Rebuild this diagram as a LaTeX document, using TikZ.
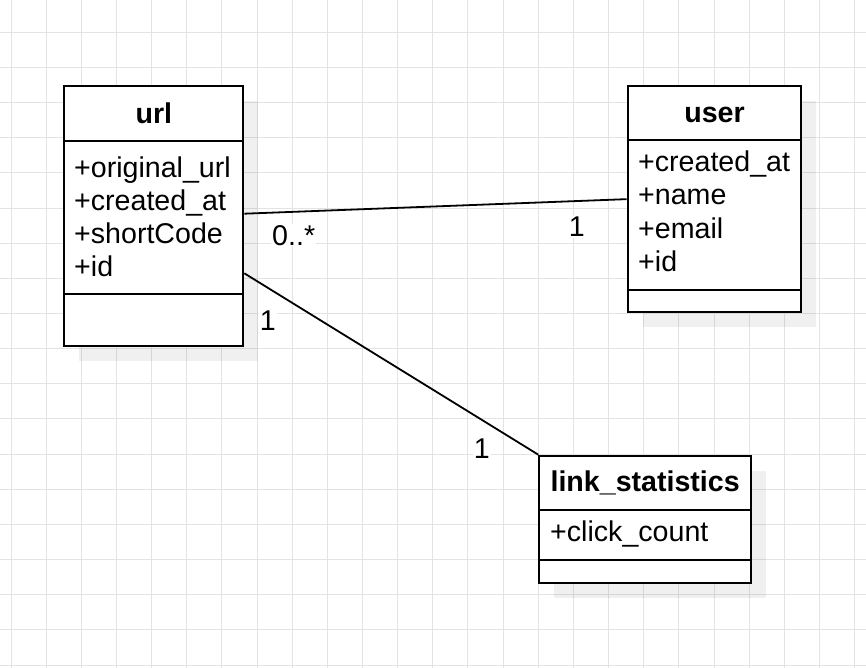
\documentclass[tikz,border=0pt]{standalone}
\usepackage{fontspec}
\setmainfont{Liberation Sans}
\usetikzlibrary{positioning,shadows}

\begin{document}
\begin{tikzpicture}[x=1pt,y=-1pt,
     node distance=33.2pt,on grid,
     clase/.style={rectangle,draw,line width=2pt,fill=white,inner sep=0pt,anchor=north west,
        drop shadow={shadow xshift=15pt,shadow yshift=-15pt,fill=black,opacity=0.06}},
     titulo/.style={font=\fontsize{28.6}{33}\selectfont\bfseries,inner sep=0pt,anchor=base},
     atributo/.style={font=\fontsize{28.6}{33}\selectfont,inner sep=0pt,anchor=base west},
     etiqueta/.style={font=\fontsize{28.6}{33}\selectfont,inner sep=1pt,fill=white,anchor=base west},
     separa/.style={line width=2pt},
     rejilla/.style={draw=black!11,line width=1pt},
     linea/.style={line width=1.8pt}]
\useasboundingbox (0,0) rectangle (866,668);
%% Draw background grid
\foreach \i in {0,...,24} \draw[rejilla] (11+35.15*\i,0) -- (11+35.15*\i,668);
\foreach \j in {1,...,19} \draw[rejilla] (0,-2.85+35.15*\j) -- (866,-2.85+35.15*\j);

%% Draw classes
  \node [clase,minimum width=179pt,minimum height=260pt] (url) at (63.3,85) {};
  \draw[separa] ([yshift=-55.7pt]url.north west) -- ([yshift=-55.7pt]url.north east);
  \draw[separa] ([yshift=-209pt]url.north west) -- ([yshift=-209pt]url.north east);
  \node [titulo] (urltit) at ([yshift=-38.3pt]url.north) {url};
  \node [atributo] (url1) at ([xshift=10.7pt,yshift=-92.3pt]url.north west) {+original\_url};
  \node [below=of url1.base west,atributo] (url2) {+created\_at};
  \node [below=of url2.base west,atributo] (url3) {+shortCode};
  \node [below=of url3.base west,atributo] (url4) {+id};

  \node [clase,minimum width=173.6pt,minimum height=226.3pt] (user) at (626.7,85) {};
  \draw[separa] ([yshift=-55.3pt]user.north west) -- ([yshift=-55.3pt]user.north east);
  \draw[separa] ([yshift=-205pt]user.north west) -- ([yshift=-205pt]user.north east);
  \node [titulo] (usertit) at ([yshift=-37.7pt]user.north) {user};
  \node [atributo] (user1) at ([xshift=11.3pt,yshift=-86.7pt]user.north west) {+created\_at};
  \node [below=of user1.base west,atributo] (user2) {+name};
  \node [below=of user2.base west,atributo] (user3) {+email};
  \node [below=of user3.base west,atributo] (user4) {+id};

  \node [clase,minimum width=211.7pt,minimum height=127.6pt] (link) at (538.3,454.7) {};
  \draw[separa] ([yshift=-55.3pt]link.north west) -- ([yshift=-55.3pt]link.north east);
  \draw[separa] ([yshift=-105.3pt]link.north west) -- ([yshift=-105.3pt]link.north east);
  \node [titulo] (linktit) at ([yshift=-37pt]link.north) {link\_statistics};
  \node [atributo] (link1) at ([xshift=11.7pt,yshift=-87pt]link.north west) {+click\_count};

%% Draw associations
  \draw[linea] ([yshift=2.3pt]url.east) -- (user.west);
  \draw[linea] ([yshift=-57.3pt]url.east) -- (link.north west);
  \node [etiqueta] (multurl) at (271,245) {0..*};
  \node [etiqueta] (multuser) at (567.7,236.7) {1};
  \node [etiqueta] (multurl2) at (258.7,330) {1};
  \node [etiqueta] (multlink) at (472.7,458.3) {1};
\end{tikzpicture}
\end{document}
